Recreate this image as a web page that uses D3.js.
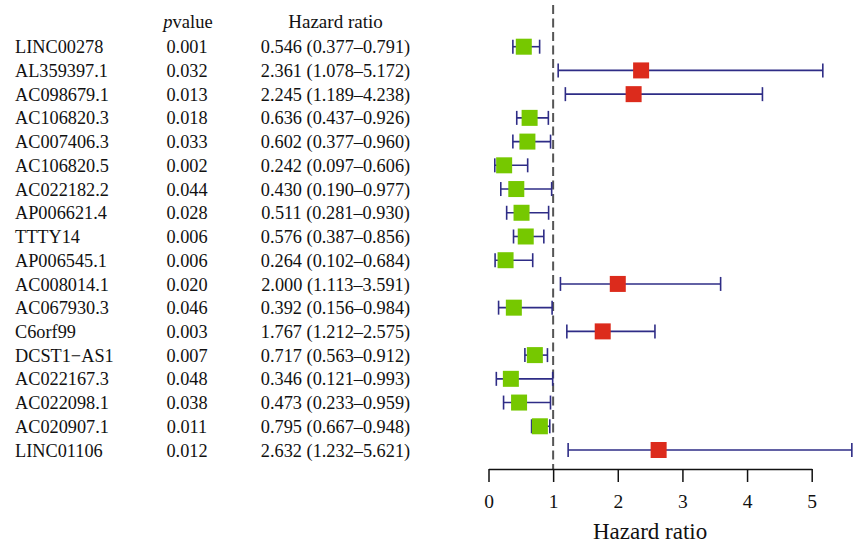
<!DOCTYPE html>
<html>
<head>
<meta charset="utf-8">
<script src="https://cdn.jsdelivr.net/npm/d3@7"></script>
<style>
    body { margin: 0; background: #fff; }
    text { font-family: "Liberation Serif", "DejaVu Serif", serif; fill: #111; }
</style>
</head>
<body>
<svg id="forest" width="857" height="545"></svg>
<script>
// gene names, top to bottom
var genes = ["LINC00278", "AL359397.1", "AC098679.1", "AC106820.3", "AC007406.3", "AC106820.5",
    "AC022182.2", "AP006621.4", "TTTY14", "AP006545.1", "AC008014.1", "AC067930.3",
    "C6orf99", "DCST1\u2212AS1", "AC022167.3", "AC022098.1", "AC020907.1", "LINC01106"];

// p values as printed
var pvalues = ["0.001", "0.032", "0.013", "0.018", "0.033", "0.002", "0.044", "0.028", "0.006",
    "0.006", "0.020", "0.046", "0.003", "0.007", "0.048", "0.038", "0.011", "0.012"];

// hazard ratio and 95% CI
var hr = [0.546, 2.361, 2.245, 0.636, 0.602, 0.242, 0.430, 0.511, 0.576,
    0.264, 2.000, 0.392, 1.767, 0.717, 0.346, 0.473, 0.795, 2.632];
var hrLow = [0.377, 1.078, 1.189, 0.437, 0.377, 0.097, 0.190, 0.281, 0.387,
    0.102, 1.113, 0.156, 1.212, 0.563, 0.121, 0.233, 0.667, 1.232];
var hrHigh = [0.791, 5.172, 4.238, 0.926, 0.960, 0.606, 0.977, 0.930, 0.856,
    0.684, 3.591, 0.984, 2.575, 0.912, 0.993, 0.959, 0.948, 5.621];

// x axis ticks
var xTicks = [0, 1, 2, 3, 4, 5];

var svg = d3.select("#forest");

// scales
var x = d3.scaleLinear().domain([0, 5]).range([488.5, 811.7]);
var y = d3.scalePoint().domain(genes).range([46.7, 450]);
var axisY = 469;

// table headers
svg.append("text")
    .attr("x", 188).attr("y", 28)
    .attr("text-anchor", "middle")
    .style("font-size", "18.5px")
    .html('<tspan font-style="italic">p</tspan>value');

svg.append("text")
    .attr("x", 335.5).attr("y", 28)
    .attr("text-anchor", "middle")
    .style("font-size", "19px")
    .text("Hazard ratio");

// table rows
var rows = svg.append("g").selectAll("g")
    .data(genes)
    .join("g")
    .attr("transform", d => "translate(0," + y(d) + ")");

rows.append("text")
    .attr("x", 15).attr("dy", "0.36em")
    .style("font-size", "18.3px")
    .text(d => d);

rows.append("text")
    .attr("x", 187).attr("dy", "0.36em")
    .attr("text-anchor", "middle")
    .style("font-size", "18.3px")
    .text((d, i) => pvalues[i]);

rows.append("text")
    .attr("x", 335.5).attr("dy", "0.36em")
    .attr("text-anchor", "middle")
    .style("font-size", "18.3px")
    .text((d, i) => hr[i].toFixed(3) + " (" + hrLow[i].toFixed(3) + "\u2013" + hrHigh[i].toFixed(3) + ")");

// reference line at HR = 1
svg.append("line")
    .attr("x1", x(1)).attr("x2", x(1))
    .attr("y1", 5).attr("y2", axisY)
    .attr("stroke", "#555")
    .attr("stroke-width", 2)
    .attr("stroke-dasharray", "9 4.5");

// error bars
var bars = svg.append("g").selectAll("g")
    .data(genes)
    .join("g")
    .attr("transform", d => "translate(0," + y(d) + ")");

bars.append("line")
    .attr("x1", (d, i) => x(hrLow[i]))
    .attr("x2", (d, i) => x(hrHigh[i]))
    .attr("stroke", "#2e2c86")
    .attr("stroke-width", 1.6);

bars.append("line")
    .attr("x1", (d, i) => x(hrLow[i]))
    .attr("x2", (d, i) => x(hrLow[i]))
    .attr("y1", -7).attr("y2", 7)
    .attr("stroke", "#2e2c86")
    .attr("stroke-width", 1.6);

bars.append("line")
    .attr("x1", (d, i) => x(hrHigh[i]))
    .attr("x2", (d, i) => x(hrHigh[i]))
    .attr("y1", -7).attr("y2", 7)
    .attr("stroke", "#2e2c86")
    .attr("stroke-width", 1.6);

// squares, red for risk and green for protective
bars.append("rect")
    .attr("x", (d, i) => x(hr[i]) - 8)
    .attr("y", -8)
    .attr("width", 16).attr("height", 16)
    .attr("fill", (d, i) => hr[i] > 1 ? "#dc2b1c" : "#76c800");

// x axis
var axis = svg.append("g")
    .attr("transform", "translate(0," + axisY + ")")
    .call(d3.axisBottom(x).tickValues(xTicks).tickFormat(d3.format("d"))
        .tickSize(13).tickSizeOuter(0).tickPadding(12));

axis.select(".domain").attr("stroke", "#111").attr("stroke-width", 1.5);
axis.selectAll(".tick line").attr("stroke", "#111").attr("stroke-width", 1.5);
axis.selectAll(".tick text")
    .style("font-family", "'Liberation Serif', serif")
    .style("font-size", "19.5px")
    .attr("fill", "#111");

// axis title
svg.append("text")
    .attr("x", x(2.5)).attr("y", 539)
    .attr("text-anchor", "middle")
    .style("font-size", "23px")
    .text("Hazard ratio");
</script>
</body>
</html>
